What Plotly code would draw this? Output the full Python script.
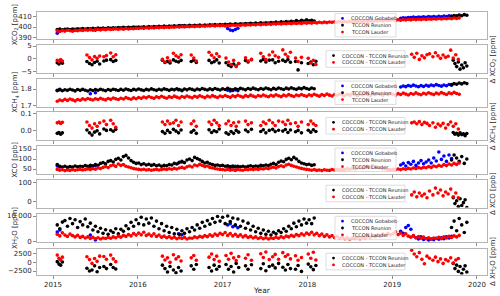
import plotly.graph_objects as go

# ---------------- data (decimal years) ----------------
lau_dates = [
    2015.05, 2015.08, 2015.11, 2015.14, 2015.17, 2015.20, 2015.23, 2015.26, 2015.29, 2015.32, 2015.35, 2015.38, 2015.41, 2015.44, 2015.47, 2015.50,
    2015.53, 2015.56, 2015.59, 2015.62, 2015.65, 2015.68, 2015.71, 2015.74, 2015.77, 2015.80, 2015.83, 2015.86, 2015.89, 2015.92, 2015.95, 2015.98,
    2016.01, 2016.04, 2016.07, 2016.10, 2016.13, 2016.16, 2016.19, 2016.22, 2016.25, 2016.28, 2016.31, 2016.34, 2016.37, 2016.40, 2016.43, 2016.46,
    2016.49, 2016.52, 2016.55, 2016.58, 2016.61, 2016.64, 2016.67, 2016.70, 2016.73, 2016.76, 2016.79, 2016.82, 2016.85, 2016.88, 2016.91, 2016.94, 2016.97,
    2017.00, 2017.03, 2017.06, 2017.09, 2017.12, 2017.15, 2017.18, 2017.21, 2017.24, 2017.27, 2017.30, 2017.33, 2017.36, 2017.39, 2017.42, 2017.45,
    2017.48, 2017.51, 2017.54, 2017.57, 2017.60, 2017.63, 2017.66, 2017.69, 2017.72, 2017.75, 2017.78, 2017.81, 2017.84, 2017.87, 2017.90, 2017.93, 2017.96, 2017.99,
    2018.02, 2018.05, 2018.08, 2018.11, 2018.14, 2018.17, 2018.20, 2018.23, 2018.26, 2018.29, 2018.32, 2018.35, 2018.38, 2018.41, 2018.44, 2018.47,
    2018.50, 2018.53, 2018.56, 2018.59, 2018.62, 2018.65, 2018.68, 2018.71, 2018.74, 2018.77, 2018.80, 2018.83, 2018.86, 2018.89, 2018.92, 2018.95, 2018.98,
    2019.01, 2019.04, 2019.07, 2019.10, 2019.13, 2019.16, 2019.19, 2019.22, 2019.25, 2019.28, 2019.31, 2019.34, 2019.37, 2019.40, 2019.43, 2019.46,
    2019.49, 2019.52, 2019.55, 2019.58, 2019.61, 2019.64, 2019.67, 2019.70, 2019.73, 2019.76, 2019.79,
]
reu_dates = lau_dates[:102] + [2019.70, 2019.73, 2019.76, 2019.79, 2019.82, 2019.85, 2019.88]
gob_dates = [2015.05, 2015.08, 2015.44, 2015.50, 2016.48, 2016.52, 2017.06, 2017.09, 2017.12, 2017.15, 2017.18,
             2019.10, 2019.13, 2019.16, 2019.19, 2019.22, 2019.25, 2019.28, 2019.31, 2019.34, 2019.37, 2019.40,
             2019.43, 2019.46, 2019.49, 2019.52, 2019.55, 2019.58, 2019.61, 2019.64, 2019.67, 2019.70]
diff_dates_early = [2015.05, 2015.07, 2015.09, 2015.11,
                    2015.40, 2015.43, 2015.46, 2015.49, 2015.52, 2015.55,
                    2015.60, 2015.63, 2015.68, 2015.71, 2015.74,
                    2016.29, 2016.32, 2016.35, 2016.38, 2016.42, 2016.45, 2016.48, 2016.51,
                    2016.63, 2016.66, 2016.69, 2016.84, 2016.87, 2016.90, 2016.93, 2016.96,
                    2017.04, 2017.07, 2017.10, 2017.13, 2017.16, 2017.19, 2017.27, 2017.30, 2017.34,
                    2017.45, 2017.48, 2017.51, 2017.55, 2017.59, 2017.62, 2017.66,
                    2017.71, 2017.74, 2017.77, 2017.80, 2017.86, 2017.89, 2017.93,
                    2018.01, 2018.04, 2018.07, 2018.10]
diff_reu_late = [2019.72, 2019.74, 2019.76, 2019.78, 2019.80, 2019.82, 2019.84, 2019.86, 2019.88]
diff_lau_late = [2019.23, 2019.26, 2019.29, 2019.32, 2019.35, 2019.38, 2019.41, 2019.44, 2019.48, 2019.51,
                 2019.54, 2019.57, 2019.60, 2019.63, 2019.66, 2019.69, 2019.72, 2019.75, 2019.78]

# XCO2 [ppm]
xco2_lau = [
    396.2, 395.6, 396.5, 396.0, 396.8, 396.3, 395.9, 396.7, 396.4, 397.0, 396.6, 397.2, 396.8, 397.4, 396.9, 397.3,
    397.6, 397.1, 397.8, 397.4, 398.0, 397.5, 397.9, 398.2, 397.7, 398.3, 397.9, 398.5, 398.1, 398.6, 398.3, 398.8,
    398.5, 399.0, 398.7, 399.2, 398.9, 399.4, 399.0, 399.6, 399.2, 399.8, 399.4, 399.9, 399.5, 400.1, 399.7, 400.3,
    399.9, 400.4, 400.1, 400.6, 400.2, 400.8, 400.4, 400.9, 400.6, 401.1, 400.7, 401.2, 400.9, 401.4, 401.0, 401.5, 401.2,
    401.4, 401.0, 401.7, 401.3, 401.9, 401.5, 402.0, 401.6, 402.2, 401.8, 402.3, 402.0, 402.5, 402.1, 402.7, 402.3,
    402.8, 402.5, 403.0, 402.6, 403.1, 402.8, 403.3, 402.9, 403.5, 403.1, 403.6, 403.2, 403.8, 403.4, 403.9, 403.5, 404.1, 403.7,
    404.2, 403.8, 404.4, 404.0, 404.6, 404.1, 404.7, 404.3, 404.9, 404.5, 405.0, 404.6, 405.2, 404.8, 405.3, 404.9,
    405.5, 405.1, 405.6, 405.2, 405.8, 405.4, 405.9, 405.5, 406.1, 405.7, 406.2, 405.8, 406.4, 406.0, 406.5, 406.1, 406.7,
    406.9, 406.4, 407.0, 406.6, 407.2, 406.8, 407.3, 406.9, 407.5, 407.1, 407.6, 407.2, 407.8, 407.4, 407.9, 407.5,
    408.1, 407.7, 408.2, 407.8, 408.4, 408.0, 408.5, 408.1, 408.7, 408.3, 408.8,
]
xco2_reu = [
    397.6, 397.9, 397.2, 397.8, 398.0, 397.5, 398.1, 397.7, 398.3, 397.9, 398.4, 398.0, 398.6, 398.2, 398.7, 398.3,
    398.9, 398.5, 399.0, 398.6, 399.2, 398.8, 399.3, 398.9, 399.5, 399.1, 399.6, 399.2, 399.8, 399.4, 399.9, 399.6,
    400.0, 399.7, 400.2, 399.8, 400.4, 400.0, 400.5, 400.1, 400.7, 400.3, 400.8, 400.4, 401.0, 400.6, 401.1, 400.7,
    401.3, 400.9, 401.4, 401.0, 401.6, 401.2, 401.7, 401.3, 401.9, 401.5, 402.0, 401.6, 402.2, 401.8, 402.3, 401.9, 402.5,
    402.2, 402.7, 402.3, 402.9, 402.5, 403.0, 402.6, 403.2, 402.8, 403.4, 403.0, 403.6, 403.2, 403.8, 403.4, 404.0,
    403.6, 404.2, 403.8, 404.4, 404.0, 404.7, 404.2, 405.0, 404.5, 405.3, 404.8, 405.6, 405.0, 406.2, 405.4, 406.6, 405.8, 406.9,
    406.0, 406.5, 405.8,
    410.5, 411.2, 410.8, 411.6, 411.0, 412.0, 411.4,
]
xco2_gob = [394.0, 396.5, 397.5, 397.0, 400.8, 401.2, 398.5, 397.0, 396.5, 397.5, 398.8,
            408.5, 409.0, 408.8, 409.3, 409.1, 409.6, 409.2, 409.8, 409.4, 409.9, 409.5,
            410.1, 409.7, 410.2, 409.8, 410.4, 410.0, 410.6, 410.2, 410.8, 410.4]

# XCH4 [ppm]
xch4_lau = [
    1.728, 1.735, 1.731, 1.739, 1.733, 1.741, 1.736, 1.730, 1.738, 1.734, 1.742, 1.737, 1.744, 1.739, 1.735, 1.743,
    1.738, 1.746, 1.740, 1.736, 1.744, 1.739, 1.747, 1.742, 1.738, 1.746, 1.741, 1.749, 1.744, 1.740, 1.748, 1.743,
    1.750, 1.745, 1.753, 1.748, 1.756, 1.750, 1.745, 1.754, 1.749, 1.757, 1.751, 1.746, 1.755, 1.750, 1.758, 1.752,
    1.747, 1.756, 1.751, 1.759, 1.753, 1.748, 1.757, 1.752, 1.760, 1.754, 1.749, 1.758, 1.753, 1.761, 1.755, 1.750, 1.759,
    1.754, 1.762, 1.756, 1.751, 1.760, 1.755, 1.763, 1.757, 1.752, 1.761, 1.756, 1.764, 1.758, 1.753, 1.762, 1.757,
    1.765, 1.759, 1.754, 1.763, 1.758, 1.766, 1.760, 1.755, 1.764, 1.759, 1.767, 1.761, 1.756, 1.765, 1.760, 1.768, 1.762, 1.757,
    1.766, 1.761, 1.769, 1.763, 1.758, 1.767, 1.762, 1.770, 1.764, 1.759, 1.768, 1.763, 1.771, 1.765, 1.760, 1.769,
    1.764, 1.772, 1.766, 1.761, 1.770, 1.765, 1.773, 1.767, 1.762, 1.771, 1.766, 1.774, 1.768, 1.763, 1.772, 1.767, 1.775,
    1.769, 1.764, 1.773, 1.768, 1.776, 1.770, 1.765, 1.774, 1.769, 1.777, 1.771, 1.766, 1.775, 1.770, 1.778, 1.772,
    1.767, 1.776, 1.771, 1.779, 1.773, 1.768, 1.777, 1.772, 1.780, 1.774, 1.769,
]
xch4_reu = [
    1.793, 1.798, 1.790, 1.796, 1.792, 1.799, 1.794, 1.789, 1.797, 1.792, 1.798, 1.793, 1.788, 1.796, 1.791, 1.797,
    1.793, 1.799, 1.794, 1.790, 1.797, 1.792, 1.799, 1.795, 1.791, 1.798, 1.793, 1.800, 1.795, 1.791, 1.798, 1.794,
    1.800, 1.795, 1.791, 1.798, 1.794, 1.801, 1.796, 1.792, 1.799, 1.794, 1.801, 1.797, 1.792, 1.799, 1.795, 1.802,
    1.797, 1.793, 1.800, 1.795, 1.802, 1.798, 1.793, 1.800, 1.796, 1.803, 1.798, 1.794, 1.801, 1.796, 1.803, 1.799, 1.794,
    1.801, 1.797, 1.804, 1.799, 1.795, 1.802, 1.797, 1.804, 1.800, 1.795, 1.803, 1.798, 1.805, 1.800, 1.796, 1.803,
    1.799, 1.806, 1.801, 1.796, 1.804, 1.799, 1.806, 1.802, 1.797, 1.805, 1.800, 1.807, 1.802, 1.798, 1.805, 1.801, 1.808, 1.803,
    1.799, 1.806, 1.802,
    1.826, 1.832, 1.828, 1.835, 1.830, 1.837, 1.832,
]
xch4_gob = [1.790, 1.795, 1.772, 1.778, 1.795, 1.790, 1.793, 1.788, 1.791, 1.795, 1.790,
            1.812, 1.818, 1.814, 1.821, 1.816, 1.823, 1.818, 1.813, 1.820, 1.815, 1.822,
            1.817, 1.824, 1.819, 1.826, 1.821, 1.817, 1.824, 1.819, 1.827, 1.822]

# XCO [ppb]
xco_lau = [
    48, 44, 46, 42, 45, 43, 47, 44, 46, 48, 45, 47, 50, 47, 52, 49, 55, 52, 58, 62, 57, 66, 70, 63, 75, 68, 72, 64, 60, 56, 52, 50,
    48, 46, 49, 45, 47, 44, 46, 48, 45, 47, 50, 48, 51, 49, 53, 50, 55, 58, 54, 61, 65, 60, 70, 66, 73, 68, 62, 65, 58, 55, 52, 50, 48,
    47, 45, 48, 44, 46, 43, 47, 45, 44, 48, 46, 49, 47, 50, 48, 52, 50, 54, 51, 56, 59, 55, 62, 66, 61, 70, 74, 68, 64, 60, 56, 53, 50, 48,
    46, 44, 47, 43, 45, 42, 46, 44, 43, 47, 45, 48, 46, 49, 47, 51, 49, 53, 50, 55, 58, 54, 61, 64, 59, 66, 62, 58, 55, 52, 50, 48, 47,
    48, 46, 50, 47, 51, 49, 53, 50, 55, 52, 57, 54, 59, 56, 62, 58, 65, 61, 68, 64, 72, 67, 75, 70, 78, 73, 80,
]
xco_reu = [
    72, 63, 60, 64, 58, 62, 60, 65, 61, 64, 62, 67, 63, 68, 66, 72, 69, 78, 82, 76, 88, 92, 85, 98, 104, 95, 112, 118, 105, 92, 84, 78,
    80, 72, 76, 70, 74, 68, 72, 66, 70, 64, 68, 66, 72, 70, 78, 75, 84, 88, 82, 95, 100, 92, 108, 102, 96, 88, 80, 84, 76, 72, 68, 70, 66,
    68, 64, 66, 62, 65, 60, 63, 61, 64, 60, 63, 66, 62, 65, 63, 68, 66, 70, 67, 74, 78, 72, 84, 90, 86, 98, 104, 96, 108, 100, 88, 80, 76, 72,
    74, 68, 71,
    95, 120, 105, 88, 112, 78, 100,
]
xco_gob = [65, 60, 62, 66, 80, 85, 62, 58, 60, 63, 59,
           70, 78, 65, 82, 74, 88, 68, 80, 92, 76, 85, 95, 80, 105, 90, 135, 98, 115, 88, 120, 102]

# XH2O [ppm]
xh2o_lau = [
    2800, 2200, 3400, 2500, 2000, 2900, 2300, 1800, 2400, 1600, 2000, 1400, 1800, 1200, 1600, 1100,
    1500, 1000, 1400, 1200, 1600, 1300, 1800, 1500, 2100, 1700, 2400, 2000, 2700, 2200, 3100, 2500,
    3300, 2600, 3600, 2400, 2900, 2200, 3000, 2000, 2500, 1700, 2100, 1500, 1900, 1300, 1700, 1100,
    1500, 1200, 1600, 1000, 1400, 1300, 1800, 1500, 2000, 1700, 2300, 1900, 2600, 2100, 2900, 2400, 3200,
    2700, 3500, 2400, 3100, 2200, 2800, 2000, 2600, 1800, 2300, 1600, 2000, 1400, 1800, 1200, 1600,
    1100, 1500, 1000, 1400, 1200, 1700, 1300, 1900, 1500, 2100, 1800, 2400, 2000, 2700, 2300, 3000, 2500, 3300,
    2800, 3600, 2600, 3200, 2300, 2900, 2000, 2600, 1800, 2300, 1500, 2000, 1300, 1700, 1100, 1500,
    1000, 1400, 1200, 1600, 1100, 1800, 1400, 2000, 1600, 2300, 1900, 2600, 2100, 2900, 2400, 3200, 2600,
    3000, 3800, 2700, 3300, 2400, 3000, 2100, 1700, 2300, 1500, 1900, 1300, 1700, 1100, 1500, 1000,
    1400, 1200, 1600, 1100, 1800, 1400, 2000, 1600, 2200, 1800, 2400,
]
xh2o_reu = [
    6500, 5000, 7600, 8200, 6000, 9000, 7000, 8500, 5500, 7800, 6500, 8800, 5800, 7200, 4500, 6000,
    3800, 5200, 3200, 4600, 2800, 4200, 3500, 5000, 3000, 4800, 4000, 6200, 5000, 7500, 6000, 8500,
    7000, 9500, 6500, 8800, 7200, 9200, 6000, 8000, 5000, 7000, 4200, 6000, 3500, 5500, 3000, 4800,
    2800, 4200, 3200, 5000, 3800, 5500, 4500, 6500, 5200, 7500, 6000, 8200, 6800, 9000, 7500, 9800, 8000,
    9500, 7000, 10000, 7800, 9200, 6500, 8800, 6000, 8000, 5200, 7200, 4500, 6000, 3800, 5200, 3200,
    4500, 2800, 4000, 2500, 3600, 3000, 4200, 3500, 5000, 4000, 6000, 5000, 7200, 5800, 8000, 6500, 8800, 7200,
    8500, 7000, 9200,
    5500, 8000, 4200, 9000, 6500, 3500, 7500,
]
xh2o_gob = [3700, 4500, 2500, 600, 3000, 2600, 6500, 7000, 5800, 6200, 5400,
            4000, 3200, 5500, 6300, 4800, 2200, 1500, 1000, 1800, 800, 1200,
            600, 1000, 700, 1300, 900, 1500, 1100, 1800, 1400, 2000]

# differences COCCON - TCCON (early clusters then late cluster)
dxco2_reu = [-1.5, -2.0, -1.2, -1.7, -1.0, -1.8, -2.3, -1.4, -0.9, -2.0, -0.8, -0.5, -0.3, -1.0, -0.6,
             -0.5, -1.4, -1.0, -1.6, -0.4, -0.9, -1.2, -0.6, -1.0, -0.5, -1.4, -0.6, -1.5, -1.1, -0.4, -1.6,
             -1.5, -2.5, -3.0, -2.0, -2.8, -1.8, -0.6, -1.2, -0.3, -0.8, -0.2, -1.2, -0.5, -0.4, -1.5, -0.9,
             -0.5, -1.0, -0.3, -1.3, -1.0, -4.3, -1.5, -1.8, -1.2, -2.3, -0.9,
             -0.5, -1.8, -3.0, -1.2, -4.0, -2.4, -3.5, -1.5, -2.8]
dxco2_lau = [-0.6, -1.0, -0.3, -0.8, 1.5, 0.5, -0.4, 0.9, 0.2, 1.1, 0.8, 1.3, 2.3, 0.8, 1.6,
             -0.2, -1.2, 0.4, -0.8, 2.2, 1.2, 0.6, 1.6, 1.5, 0.3, -0.8, 2.6, 1.4, 0.4, 2.0, 0.9,
             0.3, -1.2, -2.2, -0.6, -3.0, -1.8, 0.4, -0.8, -0.2, 2.2, 0.8, -0.3, 1.5, 2.7, 1.2, 0.6,
             3.5, 1.8, 0.8, 2.6, 0.3, -1.0, 0.6, 0.2, -1.6, -0.6, -2.2,
             1.8, 0.6, 2.2, -0.2, 1.2, 0.4, 1.6, 2.0, 0.8, 2.4, 1.2, 0.2, 1.5, 0.6, 1.0, 3.4, 0.3, 1.6, -0.2]
dxch4_reu = [-0.015, -0.010, -0.020, -0.012, 0.004, -0.012, -0.025, -0.008, 0.000, -0.018, 0.010, 0.002, 0.006, -0.003, 0.008,
             -0.005, -0.015, 0.002, -0.010, 0.008, -0.002, -0.012, 0.004, -0.008, 0.003, -0.015, 0.005, -0.010, 0.000, -0.006, 0.010,
             -0.012, -0.020, -0.005, -0.015, 0.002, -0.008, 0.004, -0.006, 0.008, -0.004, 0.006, -0.012, 0.002, 0.008, -0.005, 0.003,
             -0.002, 0.007, -0.010, 0.004, -0.006, 0.002, -0.012, 0.003, -0.008, 0.006, -0.004,
             -0.010, -0.020, -0.015, -0.025, -0.012, -0.022, -0.018, -0.028, -0.016]
dxch4_lau = [0.045, 0.050, 0.042, 0.048, 0.050, 0.030, 0.015, 0.040, 0.025, 0.045, 0.055, 0.035, 0.060, 0.040, 0.020,
             0.050, 0.035, 0.055, 0.040, 0.045, 0.060, 0.030, 0.050, 0.040, 0.055, 0.025, 0.050, 0.035, 0.060, 0.045, 0.030,
             0.040, 0.055, 0.030, 0.045, 0.025, 0.050, 0.055, 0.035, 0.045, 0.030, 0.050, 0.040, 0.060, 0.045, 0.030, 0.055,
             0.050, 0.035, 0.060, 0.040, 0.045, 0.025, 0.050, 0.035, 0.055, 0.040, 0.030,
             0.045, 0.050, 0.040, 0.052, 0.035, 0.048, 0.042, 0.030, 0.045, 0.020, 0.038, 0.028, 0.042, 0.015, 0.035, 0.050, 0.025, 0.040, 0.010]
dxco_reu = [20, -10, 5, -25, 15, -20, -5, 10, -30]
dxco_lau = [35, 50, 25, 45, 30, 40, 20, 55, 35, 70, 45, 60, 30, 50, 40, 65, 25, 45, 20]
dxh2o_reu = [200, -500, -800, 100, -1700, -2500, -2200, -1000, -2700, -1500, -1200, -1800, -600, -1500, -1900,
             -800, -1800, -2800, -1200, -2200, -3000, -1500, -2500, -1000, -2000, -600, -1500, -2500, -800, -2000, -1200,
             -600, -2000, -1200, -2800, -300, -1500, -1000, -2000, -700, -1800, -400, -2400, -1200, -800, -1600, -300,
             -1400, -2200, -600, -1800, -2000, -900, -2600, -500, -1300, -2100, -900,
             -300, -1800, -800, -2600, -1200, -3200, -2000, -1000, -2800]
dxh2o_lau = [2100, 1200, 660, 1500, 1600, 800, -300, 1100, 300, 1800, 1700, 900, 2100, 1000, 200,
             1800, 700, 1300, 0, 2200, 1000, 1600, 400, 1300, 2000, 600, 1500, 2400, 800, 1800, 300,
             2000, 900, 2600, 1300, 500, 1700, 1200, 2200, 600, 2500, 1400, 3000, 800, 1600, 2300, 900,
             2800, 1700, 2200, 1000, 1900, 600, 1400, 2400, 1200, 2900, 700,
             3500, 2400, 1600, 2800, 900, -400, 1800, 1200, 600, 1500, 200, 1000, -300, 800, 400, 1300, -200, 700, 1100]

year_ticks = [2015, 2016, 2017, 2018, 2019, 2020]

# ---------------- figure ----------------
W, H = 500, 296
L, R = 37, 487
BLUE, BLACK, RED = "#0000ff", "#000000", "#ff0000"

# panel pixel boxes (top, bottom)
boxes = [(12, 38.5), (45, 73), (79, 106.5), (111.5, 140), (146, 173.5), (179.5, 207.5), (214, 242), (248.5, 274.5)]
yranges = [[388.8, 414.6], [-5.5, 5.4], [1.697, 1.859], [-0.053, 0.110], [27.5, 165], [-30, 114.4], [-196, 10784], [-3500, 4000]]
ytv = [[390, 400, 410], [-5, 0, 5], [1.7, 1.8], [0.0, 0.1], [50, 100, 150], [0, 100], [0, 10000], [-2500, 0, 2500]]
ytt = [["390", "400", "410"], ["\u22125", "0", "5"], ["1.7", "1.8"], ["0.0", "0.1"], ["50", "100", "150"], ["0", "100"],
       ["0", "10 000"], ["\u22122500", "0", "2500"]]

early_reu = diff_dates_early + diff_reu_late
early_lau = diff_dates_early + diff_lau_late

panels = [
    [(gob_dates, xco2_gob, BLUE), (reu_dates, xco2_reu, BLACK), (lau_dates, xco2_lau, RED)],
    [(early_reu, dxco2_reu, BLACK), (early_lau, dxco2_lau, RED)],
    [(gob_dates, xch4_gob, BLUE), (reu_dates, xch4_reu, BLACK), (lau_dates, xch4_lau, RED)],
    [(early_reu, dxch4_reu, BLACK), (early_lau, dxch4_lau, RED)],
    [(gob_dates, xco_gob, BLUE), (reu_dates, xco_reu, BLACK), (lau_dates, xco_lau, RED)],
    [(diff_reu_late, dxco_reu, BLACK), (diff_lau_late, dxco_lau, RED)],
    [(gob_dates, xh2o_gob, BLUE), (reu_dates, xh2o_reu, BLACK), (lau_dates, xh2o_lau, RED)],
    [(early_reu, dxh2o_reu, BLACK), (early_lau, dxh2o_lau, RED)],
]

fig = go.Figure()
for i, series in enumerate(panels):
    k = "" if i == 0 else str(i + 1)
    for xs, ys, col in series:
        assert len(xs) == len(ys), (i, col, len(xs), len(ys))
        fig.add_trace(go.Scatter(x=xs, y=ys, mode="markers", xaxis="x" + k, yaxis="y" + k,
                                 marker=dict(color=col, size=3.6, line=dict(width=0)),
                                 showlegend=False, hoverinfo="skip"))

TXT = "#262626"
tickfont = dict(family="DejaVu Sans", size=7, color=TXT)
tfont = dict(size=7, family="DejaVu Sans", color=TXT)
layout = dict(width=W, height=H, margin=dict(l=L, r=W - R, t=0, b=0),
              paper_bgcolor="white", plot_bgcolor="white", showlegend=False,
              font=dict(family="DejaVu Sans", color=TXT))
for i in range(8):
    k = "" if i == 0 else str(i + 1)
    top, bot = boxes[i]
    dom = [1 - bot / H, 1 - top / H]
    layout["xaxis" + k] = dict(domain=[0, 1], anchor="y" + k, range=[2014.811, 2020.118],
                               tickvals=year_ticks, ticktext=[str(y) for y in year_ticks],
                               showticklabels=(i == 7), ticks="outside", ticklen=3, tickwidth=0.8,
                               tickcolor="#8c8c8c", showline=True, mirror=True, linecolor="#b4b4b4",
                               linewidth=1, showgrid=False, zeroline=False, tickfont=tickfont,
                               automargin=False)
    layout["yaxis" + k] = dict(domain=dom, anchor="x" + k, range=yranges[i],
                               tickvals=ytv[i], ticktext=ytt[i], ticks="outside", ticklen=3, tickwidth=0.8,
                               tickcolor="#8c8c8c", showline=True, mirror=True, linecolor="#b4b4b4",
                               linewidth=1, showgrid=False, zeroline=False, tickfont=tickfont,
                               automargin=False)
fig.update_layout(**layout)


def px2paper(px, py):
    return (px - L) / (R - L), 1 - py / H


annotations = []
shapes = []
titles_left = ["XCO<sub>2</sub> [ppm]", "XCH<sub>4</sub> [ppm]", "XCO [ppb]", "XH<sub>2</sub>O [ppm]"]
titles_right = ["\u0394 XCO<sub>2</sub> [ppm]", "\u0394 XCH<sub>4</sub> [ppm]", "\u0394 XCO [ppb]", "\u0394 XH<sub>2</sub>O [ppm]"]
for j in range(4):
    t, b = boxes[2 * j]
    xp, yp = px2paper(15, (t + b) / 2)
    annotations.append(dict(text=titles_left[j], x=xp, y=yp, xref="paper", yref="paper", showarrow=False,
                            textangle=-90, xanchor="center", yanchor="middle", font=tfont))
    t, b = boxes[2 * j + 1]
    xp, yp = px2paper(492.5, (t + b) / 2)
    annotations.append(dict(text=titles_right[j], x=xp, y=yp, xref="paper", yref="paper", showarrow=False,
                            textangle=-90, xanchor="center", yanchor="middle", font=tfont))
xp, yp = px2paper(262, 290)
annotations.append(dict(text="Year", x=xp, y=yp, xref="paper", yref="paper", showarrow=False,
                        xanchor="center", yanchor="middle", font=dict(size=7.5, family="DejaVu Sans", color=TXT)))

leg_abs = [("COCCON Gobabeb", BLUE), ("TCCON Reunion", BLACK), ("TCCON Lauder", RED)]
leg_diff = [("COCCON - TCCON Reunion", BLACK), ("COCCON - TCCON Lauder", RED)]
for i in range(8):
    t, b = boxes[i]
    cy = (t + b) / 2
    entries = leg_abs if i % 2 == 0 else leg_diff
    bw = 61 if i % 2 == 0 else 79
    step = 6.8
    bh = step * len(entries) + 3
    cx = 365.5
    x0, x1 = cx - bw / 2, cx + bw / 2
    y0, y1 = cy - bh / 2, cy + bh / 2
    p0 = px2paper(x0, y1)
    p1 = px2paper(x1, y0)
    shapes.append(dict(type="rect", xref="paper", yref="paper", x0=p0[0], y0=p0[1], x1=p1[0], y1=p1[1],
                       fillcolor="rgba(255,255,255,0.8)", line=dict(color="#d4d4d4", width=0.8), layer="above"))
    for n, (label, col) in enumerate(entries):
        ey = cy + (n - (len(entries) - 1) / 2) * step
        mx, my = px2paper(x0 + 7.5, ey)
        shapes.append(dict(type="circle", xref="paper", yref="paper", xsizemode="pixel", ysizemode="pixel",
                           xanchor=mx, yanchor=my, x0=-1.4, x1=1.4, y0=-1.4, y1=1.4,
                           fillcolor=col, line=dict(width=0), layer="above"))
        tx, ty = px2paper(x0 + 14, ey)
        annotations.append(dict(text=label, x=tx, y=ty, xref="paper", yref="paper", showarrow=False,
                                xanchor="left", yanchor="middle",
                                font=dict(size=5, family="DejaVu Sans", color=TXT)))

fig.update_layout(annotations=annotations, shapes=shapes)
fig.write_html("out.html", config={"displayModeBar": False},
               post_script="document.body.style.margin='0px';document.body.style.overflow='hidden';")
